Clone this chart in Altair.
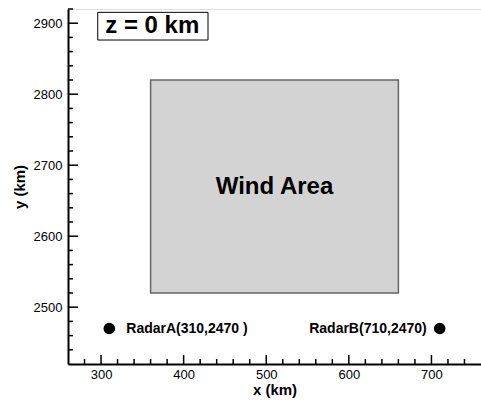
import altair as alt
import pandas as pd

FONT = "Liberation Sans"

# --- data ---
x_domain = [260, 760]
y_domain = [2420, 2920]
x_major = [300, 400, 500, 600, 700]
y_major = [2500, 2600, 2700, 2800, 2900]
x_minor = [280, 320, 340, 360, 380, 420, 440, 460, 480, 520, 540, 560, 580,
           620, 640, 660, 680, 720, 740]
y_minor = [2440, 2460, 2480, 2520, 2540, 2560, 2580, 2620, 2640, 2660, 2680,
           2720, 2740, 2760, 2780, 2820, 2840, 2860, 2880, 2920]

wind_x = [360, 660]
wind_y = [2520, 2820]
wind_label = ["Wind Area"]
wind_label_pos = [510, 2670]

radar_names = ["A", "B"]
radar_x = [310, 710]
radar_y = [2470, 2470]
radar_labels = ["RadarA(310,2470 )", "RadarB(710,2470)"]

z_label = ["z = 0 km"]
z_label_pos = [362, 2896]
z_box_x = [296, 429.5]
z_box_y = [2876.3, 2915.3]

W, H = 413, 355

xs = alt.Scale(domain=x_domain, nice=False, zero=False)
ys = alt.Scale(domain=y_domain, nice=False, zero=False)

xaxis = alt.Axis(values=x_major, format="d", ticks=False, grid=False, domainColor="black",
                 domainWidth=2, labelFont=FONT, labelFontSize=13, labelColor="black",
                 labelPadding=4, title="x (km)", titleFont=FONT, titleFontSize=15,
                 titleFontWeight="bold", titleColor="black", titlePadding=1)
yaxis = alt.Axis(values=y_major, format="d", ticks=False, grid=False, domainColor="black",
                 domainWidth=2, labelFont=FONT, labelFontSize=13, labelColor="black",
                 labelPadding=6, title="y (km)", titleFont=FONT, titleFontSize=15,
                 titleFontWeight="bold", titleColor="black", titlePadding=6)

rect_df = pd.DataFrame({"x": [wind_x[0]], "x2": [wind_x[1]],
                        "y": [wind_y[0]], "y2": [wind_y[1]]})
wind = alt.Chart(rect_df).mark_rect(fill="#d3d3d3", stroke="#666666",
                                    strokeWidth=1.5).encode(
    x=alt.X("x:Q", scale=xs, axis=xaxis),
    x2="x2:Q",
    y=alt.Y("y:Q", scale=ys, axis=yaxis),
    y2="y2:Q",
)

wind_text = alt.Chart(pd.DataFrame({"x": [wind_label_pos[0]], "y": [wind_label_pos[1]],
                                    "t": wind_label})).mark_text(
    font=FONT, fontSize=24, fontWeight="bold", color="black",
    align="center", baseline="middle").encode(
    x=alt.X("x:Q", scale=xs), y=alt.Y("y:Q", scale=ys), text="t:N")

radar_df = pd.DataFrame({"name": radar_names, "x": radar_x, "y": radar_y,
                         "label": radar_labels})
radars = alt.Chart(radar_df).mark_circle(size=135, color="black", opacity=1).encode(
    x=alt.X("x:Q", scale=xs), y=alt.Y("y:Q", scale=ys))
label_a = alt.Chart(radar_df).transform_filter(alt.datum.name == "A").mark_text(
    font=FONT, fontSize=14, fontWeight="bold", color="black",
    align="left", baseline="middle", dx=17).encode(
    x=alt.X("x:Q", scale=xs), y=alt.Y("y:Q", scale=ys), text="label:N")
label_b = alt.Chart(radar_df).transform_filter(alt.datum.name == "B").mark_text(
    font=FONT, fontSize=14, fontWeight="bold", color="black",
    align="right", baseline="middle", dx=-13).encode(
    x=alt.X("x:Q", scale=xs), y=alt.Y("y:Q", scale=ys), text="label:N")

zbox = alt.Chart(pd.DataFrame({"x": [z_box_x[0]], "x2": [z_box_x[1]],
                               "y": [z_box_y[0]], "y2": [z_box_y[1]]})).mark_rect(
    fill="white", stroke="black", strokeWidth=1).encode(
    x=alt.X("x:Q", scale=xs), x2="x2:Q", y=alt.Y("y:Q", scale=ys), y2="y2:Q")
ztext = alt.Chart(pd.DataFrame({"x": [z_label_pos[0]], "y": [z_label_pos[1]],
                                "t": z_label})).mark_text(
    font=FONT, fontSize=24, fontWeight="bold", color="black",
    align="center", baseline="middle").encode(
    x=alt.X("x:Q", scale=xs), y=alt.Y("y:Q", scale=ys), text="t:N")

# inward ticks
def xticks(vals, length):
    return alt.Chart(pd.DataFrame({"v": vals})).mark_rule(
        color="black", strokeWidth=1.5).encode(
        x=alt.X("v:Q", scale=xs), y=alt.value(H), y2=alt.value(H - length))

def yticks(vals, length):
    return alt.Chart(pd.DataFrame({"v": vals})).mark_rule(
        color="black", strokeWidth=1.5).encode(
        y=alt.Y("v:Q", scale=ys), x=alt.value(0), x2=alt.value(length))

chart = alt.layer(
    wind, wind_text, radars, label_a, label_b, zbox, ztext,
    xticks(x_major, 9), xticks(x_minor, 5), yticks(y_major, 10), yticks(y_minor, 5),
).properties(
    width=W, height=H,
    autosize=alt.AutoSizeParams(type="none"),
    padding={"left": 68, "top": 9, "right": 0, "bottom": 37},
).configure_view(stroke=None).configure(background="white")

chart.save("out.html", embed_options={"renderer": "svg", "actions": False})
